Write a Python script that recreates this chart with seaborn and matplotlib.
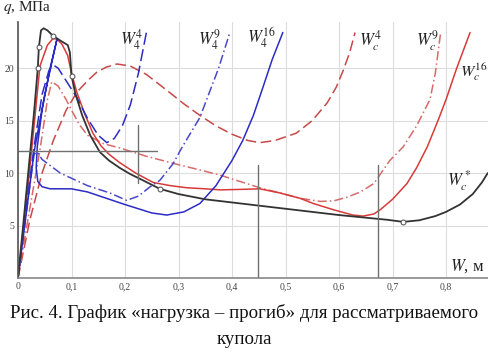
import numpy as np
import pandas as pd
import seaborn as sns
import matplotlib.pyplot as plt

# curves: W (m) and q (MPa)
wc_star_x = [0, 0.01, 0.02, 0.03, 0.037, 0.039, 0.043, 0.048, 0.055, 0.065, 0.08, 0.093, 0.097, 0.1, 0.107,
             0.12, 0.135, 0.153, 0.17, 0.19, 0.21, 0.23, 0.265, 0.30, 0.35, 0.40, 0.45, 0.50, 0.55, 0.60,
             0.65, 0.69, 0.72, 0.75, 0.78, 0.80, 0.826, 0.85, 0.867, 0.878]
wc_star_q = [0, 5.2, 10.5, 15.8, 20.0, 22.0, 23.6, 23.8, 23.6, 23.1, 22.6, 22.2, 21.5, 19.3, 17.6,
             15.5, 13.6, 12.0, 11.2, 10.5, 9.9, 9.4, 8.5, 8.0, 7.5, 7.2, 6.9, 6.6, 6.3, 6.0,
             5.75, 5.55, 5.35, 5.5, 5.9, 6.3, 7.0, 8.0, 9.1, 10.0]
wc_star_marks = [4, 5, 9, 13, 22, 32]

wc16_x = [0, 0.015, 0.03, 0.041, 0.055, 0.065, 0.072, 0.082, 0.093, 0.1, 0.11, 0.125, 0.14, 0.155, 0.17,
          0.19, 0.22, 0.253, 0.285, 0.316, 0.35, 0.378, 0.42, 0.452, 0.49, 0.527, 0.552, 0.59, 0.626,
          0.645, 0.665, 0.677, 0.70, 0.727, 0.745, 0.765, 0.785, 0.80, 0.82, 0.845]
wc16_q = [0, 7.0, 14.5, 20.2, 22.2, 22.8, 22.8, 22.3, 21.2, 19.5, 17.7, 15.6, 13.8, 12.6, 11.8,
          11.0, 10.0, 9.1, 8.8, 8.6, 8.5, 8.4, 8.45, 8.5, 8.1, 7.6, 7.1, 6.5, 6.0,
          5.9, 6.1, 6.5, 7.5, 9.0, 10.5, 12.5, 15.0, 17.0, 20.0, 23.4]

wc9_x = [0, 0.02, 0.041, 0.055, 0.063, 0.075, 0.09, 0.1, 0.115, 0.13, 0.16, 0.19, 0.24, 0.30, 0.34,
         0.378, 0.415, 0.452, 0.49, 0.527, 0.565, 0.59, 0.615, 0.64, 0.665, 0.695, 0.72, 0.745, 0.77,
         0.78, 0.79]
wc9_q = [0, 6.0, 12.2, 17.0, 18.7, 18.3, 17.0, 16.0, 14.6, 13.6, 12.8, 12.4, 11.6, 10.8, 10.3,
         9.8, 9.2, 8.6, 8.1, 7.6, 7.3, 7.35, 7.7, 8.2, 9.0, 11.2, 12.5, 14.5, 17.0,
         19.5, 23.4]

wc4_x = [0, 0.022, 0.045, 0.066, 0.09, 0.11, 0.13, 0.147, 0.165, 0.185, 0.21, 0.24, 0.278, 0.31,
         0.34, 0.37, 0.40, 0.43, 0.452, 0.48, 0.52, 0.55, 0.578, 0.595, 0.608, 0.62, 0.63]
wc4_q = [0, 5.5, 10.0, 13.1, 16.0, 17.7, 18.8, 19.6, 20.1, 20.4, 20.2, 19.4, 17.9, 16.6,
         15.5, 14.5, 13.7, 13.1, 12.9, 13.1, 13.8, 15.0, 16.7, 18.2, 19.8, 21.5, 23.4]

w44_x = [0, 0.015, 0.03, 0.045, 0.058, 0.066, 0.075, 0.09, 0.11, 0.13, 0.15, 0.166, 0.18, 0.195,
         0.21, 0.225, 0.24]
w44_q = [0, 6.5, 12.5, 17.5, 19.8, 20.3, 20.0, 18.8, 17.2, 15.2, 13.6, 12.9, 13.3, 14.5,
         16.5, 19.5, 23.4]

w49_x = [0, 0.015, 0.03, 0.036, 0.045, 0.079, 0.13, 0.172, 0.203, 0.225, 0.247, 0.265, 0.29,
         0.306, 0.34, 0.36, 0.375, 0.396]
w49_q = [0, 6.0, 11.8, 12.0, 11.3, 10.0, 8.8, 8.1, 7.4, 7.8, 8.7, 9.3, 10.9,
         12.4, 15.3, 18.0, 20.0, 23.4]

w416_x = [0, 0.015, 0.03, 0.05, 0.073, 0.06, 0.045, 0.036, 0.034, 0.037, 0.045, 0.06, 0.1, 0.13,
          0.2, 0.25, 0.278, 0.31, 0.34, 0.37, 0.4, 0.42, 0.44, 0.458, 0.475, 0.495]
w416_q = [0, 6.0, 12.0, 17.5, 22.8, 20.0, 16.0, 12.5, 10.5, 9.2, 8.7, 8.5, 8.5, 8.2,
          7.0, 6.2, 6.0, 6.3, 7.1, 8.8, 11.2, 13.1, 15.5, 18.2, 20.8, 23.4]

x_ticks = [0, 0.1, 0.2, 0.3, 0.4, 0.5, 0.6, 0.7, 0.8]
x_tick_labels = ["0", "0,1", "0,2", "0,3", "0,4", "0,5", "0,6", "0,7", "0,8"]
y_ticks = [5, 10, 15, 20]

sns.set_theme(style="whitegrid")
plt.rcParams["font.family"] = ["Liberation Serif", "DejaVu Serif"]
plt.rcParams["mathtext.fontset"] = "stix"

fig = plt.figure(figsize=(4.88, 3.57), dpi=100)
ax = fig.add_axes([18 / 488, 79 / 357, 470 / 488, 256 / 357])

blue = "#2c2cc4"
red = "#d83a3a"

curves = [
    (wc4_x, wc4_q, "#c84848", (0, (7, 3))),
    (wc9_x, wc9_q, "#d86a6a", (0, (6, 2, 1, 2))),
    (wc16_x, wc16_q, red, "-"),
    (w44_x, w44_q, blue, (0, (8, 3))),
    (w49_x, w49_q, "#4848c8", (0, (6, 2, 1, 2))),
    (w416_x, w416_q, blue, "-"),
]
for xs, qs, col, ls in curves:
    df = pd.DataFrame({"W": xs, "q": qs})
    sns.lineplot(data=df, x="W", y="q", sort=False, estimator=None, color=col,
                 linestyle=ls, linewidth=1.1, ax=ax)

df = pd.DataFrame({"W": wc_star_x, "q": wc_star_q})
sns.lineplot(data=df, x="W", y="q", sort=False, estimator=None, color="#333333", linewidth=1.3,
             marker="o", markevery=wc_star_marks, markersize=3.5, markerfacecolor="white",
             markeredgecolor="#555555", ax=ax)

# gray reference lines
ax.plot([0, 0.26], [12.1, 12.1], color="#707070", lw=1)
ax.plot([0.224, 0.224], [9.1, 14.6], color="#707070", lw=1)
ax.plot([0.449, 0.449], [0, 10.8], color="#707070", lw=1)
ax.plot([0.673, 0.673], [0, 10.8], color="#707070", lw=1)

ax.set_xlim(0, 0.8785)
ax.set_ylim(0, 24.4)
ax.set_xticks(x_ticks)
ax.set_xticklabels(x_tick_labels)
ax.set_yticks(y_ticks)
ax.set_xlabel("")
ax.set_ylabel("")
ax.grid(color="#dcdcdc", linewidth=0.8)
ax.tick_params(labelsize=7, colors="#444444", pad=3, length=0)
for side in ["top", "right"]:
    ax.spines[side].set_visible(False)
ax.spines["left"].set_color("#555555")
ax.spines["bottom"].set_color("#888888")
ax.spines["left"].set_linewidth(1.2)
ax.spines["bottom"].set_linewidth(1.2)

lab = dict(fontsize=12, ha="center", va="center", color="#222222")
ax.text(0.213, 22.7, "$W_4^4$", **lab)
ax.text(0.359, 22.7, "$W_4^9$", **lab)
ax.text(0.456, 22.9, "$W_4^{16}$", **lab)
ax.text(0.66, 22.6, "$W_c^4$", **lab)
ax.text(0.766, 22.6, "$W_c^9$", **lab)
ax.text(0.8775, 19.6, "$W_c^{16}$", fontsize=11.5, ha="right", va="center", color="#222222")
ax.text(0.824, 9.3, "$W_c^*$", **lab)
ax.text(0.84, 1.1, "$W$, м", **lab)

fig.text(3 / 488, 1 - 7 / 357, "$q$, МПа", fontsize=11, ha="left", va="center", color="#222222")

fig.text(0.5, 1 - 313 / 357, "Рис. 4. График «нагрузка – прогиб» для рассматриваемого",
         fontsize=13.6, ha="center", va="center", color="#111111")
fig.text(0.5, 1 - 340 / 357, "купола", fontsize=13.6, ha="center", va="center", color="#111111")

fig.savefig("out.png", dpi=100)
